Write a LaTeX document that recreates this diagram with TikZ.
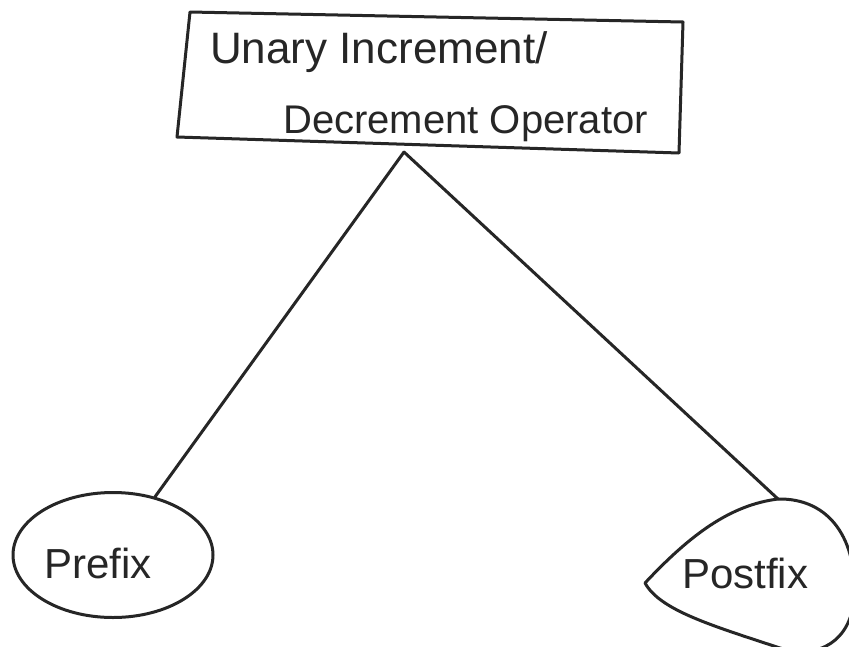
\documentclass[tikz,border=0pt]{standalone}
\usepackage{fontspec}
\setmainfont{Liberation Sans}
\usetikzlibrary{shapes.geometric}
\begin{document}
\begin{tikzpicture}[x=1pt,y=-1pt,
  ink/.style={draw=black!85, line width=3pt, line join=round, line cap=round},
  lbl/.style={inner sep=0pt, anchor=base west, text=black!85},
  big/.style={font=\fontsize{44}{48}\selectfont},
  mid/.style={font=\fontsize{40}{46}\selectfont},
  leaf/.style={font=\fontsize{42}{46}\selectfont}]
  \useasboundingbox (0,0) rectangle (849,646);
  \clip (0,0) rectangle (849,646);
  \fill[white] (0,0) rectangle (849,646);

  % operator box (slightly skewed outline)
  \coordinate (tl) at (190,12);
  \coordinate (tr) at (683,22);
  \coordinate (br) at (679,153);
  \coordinate (bl) at (177,137);
  \draw[ink] (tl) -- (tr) -- (br) -- (bl) -- cycle;
  \node[lbl,big] (line1) at (210,63) {Unary Increment/};
  \node[lbl,mid] (line2) at (283,133) {Decrement Operator};
  \coordinate (apex) at (404,152);

  % prefix ellipse
  \node[ink, ellipse, minimum width=200pt, minimum height=125pt] (pre) at (113,555) {};
  \node[lbl,leaf] (pretext) at (44,578) {Prefix};

  % postfix teardrop
  \coordinate (posttop) at (778,499);
  \coordinate (posttip) at (645,583);
  \draw[ink] (posttip) .. controls (690,535) and (730,505) .. (posttop)
    .. controls (830,498) and (858,540) .. (854,600)
    .. controls (850,640) and (820,660) .. (780,648)
    .. controls (710,625) and (660,610) .. (posttip);
  \node[lbl,leaf] (posttext) at (682,588) {Postfix};

  % connectors
  \draw[ink] (apex) -- (pre);
  \draw[ink] (apex) -- (posttop);
\end{tikzpicture}
\end{document}
